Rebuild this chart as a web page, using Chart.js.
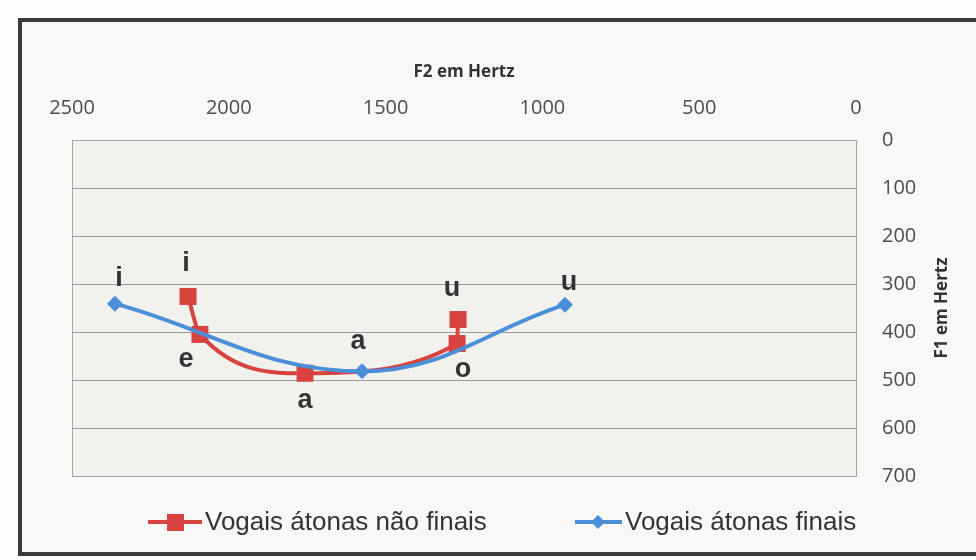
<!DOCTYPE html>
<html><head><meta charset="utf-8">
<script src="https://cdn.jsdelivr.net/npm/chart.js@4.4.0/dist/chart.umd.min.js"></script>
<style>
html,body{margin:0;padding:0;background:#fdfdfc;width:976px;height:560px;overflow:hidden}
#frame{position:absolute;left:18px;top:18px;width:1000px;height:530px;border:4px solid #3b3b3b;background:#f8f8f6;}
#c{position:absolute;left:0;top:0}
</style></head><body>
<div id="frame"></div>
<canvas id="c" width="976" height="560"></canvas>
<script>
// ---- data ----
const seriesNames = ['Vogais átonas não finais', 'Vogais átonas finais'];
const vowelsNonFinal = ['i', 'e', 'a', 'o', 'u'];
const f2NonFinal = [2130, 2092, 1757, 1272, 1269];
const f1NonFinal = [326, 405, 486, 424, 374];
const vowelsFinal = ['i', 'a', 'u'];
const f2Final = [2363, 1575, 928];
const f1Final = [341, 482, 343];
const f2Ticks = [0, 500, 1000, 1500, 2000, 2500];
const f1Ticks = [0, 100, 200, 300, 400, 500, 600, 700];

const RED = '#d9433f', BLUE = '#4a8fd8';
const toPts = (xs, ys) => xs.map((x, i) => ({ x: x, y: ys[i] }));

const plotBg = {
  id: 'plotBg',
  beforeDraw(chart) {
    const { ctx, chartArea: a } = chart;
    ctx.save();
    ctx.fillStyle = '#f1f1ed';
    ctx.fillRect(a.left, a.top, a.right - a.left, a.bottom - a.top);
    ctx.restore();
  },
  afterDraw(chart) {
    const { ctx, chartArea: a } = chart;
    ctx.save();
    ctx.strokeStyle = '#a5a5a5';
    ctx.lineWidth = 1;
    ctx.strokeRect(a.left + 0.5, a.top + 0.5, a.right - a.left, a.bottom - a.top);
    // y title, reading bottom-to-top
    ctx.translate(942, (a.top + a.bottom) / 2);
    ctx.rotate(-Math.PI / 2);
    ctx.font = 'bold 17px "Open Sans"';
    ctx.fillStyle = '#333';
    ctx.textAlign = 'center';
    ctx.textBaseline = 'middle';
    ctx.fillText('F1 em Hertz', 0, 0);
    ctx.restore();
  }
};

const vowelLabels = {
  id: 'vowelLabels',
  afterDatasetsDraw(chart, args, opts) {
    const ctx = chart.ctx;
    chart.data.datasets.forEach((ds, di) => {
      const meta = chart.getDatasetMeta(di);
      const offs = opts.offsets[di];
      meta.data.forEach((pt, i) => {
        ctx.save();
        ctx.font = opts.font;
        ctx.fillStyle = opts.color;
        ctx.textAlign = 'center';
        ctx.textBaseline = 'middle';
        ctx.fillText(ds.vowels[i], pt.x + offs[i][0], pt.y + offs[i][1]);
        ctx.restore();
      });
    });
  }
};

const customLegend = {
  id: 'customLegend',
  afterDraw(chart) {
    const ctx = chart.ctx;
    const y = 522;
    ctx.save();
    ctx.strokeStyle = RED; ctx.lineWidth = 4;
    ctx.beginPath(); ctx.moveTo(148, y); ctx.lineTo(202, y); ctx.stroke();
    ctx.fillStyle = RED; ctx.fillRect(167, y - 8, 17, 17);
    ctx.strokeStyle = BLUE;
    ctx.beginPath(); ctx.moveTo(575, y); ctx.lineTo(622, y); ctx.stroke();
    ctx.fillStyle = BLUE;
    ctx.beginPath(); ctx.moveTo(598, y - 7); ctx.lineTo(605, y); ctx.lineTo(598, y + 7); ctx.lineTo(591, y); ctx.closePath(); ctx.fill();
    ctx.font = '26px "Liberation Sans"';
    ctx.fillStyle = '#333';
    ctx.textBaseline = 'middle';
    ctx.fillText(seriesNames[0], 205, y + 1);
    ctx.fillText(seriesNames[1], 625, y + 1);
    ctx.restore();
  }
};

const tickFont = { family: 'Open Sans', size: 20 };
const plainNum = v => String(v);

new Chart(document.getElementById('c'), {
  type: 'scatter',
  data: {
    datasets: [
      {
        label: seriesNames[0], vowels: vowelsNonFinal,
        data: toPts(f2NonFinal, f1NonFinal),
        showLine: true, cubicInterpolationMode: 'monotone', borderColor: RED, backgroundColor: RED,
        borderWidth: 4, pointStyle: 'rect', pointRadius: 12, pointBorderWidth: 0, order: 1
      },
      {
        label: seriesNames[1], vowels: vowelsFinal,
        data: toPts(f2Final, f1Final),
        showLine: true, tension: 0.4, borderColor: BLUE, backgroundColor: BLUE,
        borderWidth: 4, pointStyle: 'rectRot', pointRadius: 8, pointBorderWidth: 0, order: 0
      }
    ]
  },
  options: {
    responsive: false, animation: false,
    layout: { padding: { left: 72, right: 20, top: 2, bottom: 84 } },
    plugins: {
      legend: { display: false }, tooltip: { enabled: false },
      vowelLabels: {
        font: 'bold 27px "Liberation Sans"', color: '#333',
        offsets: [
          [[-2, -33], [-14, 25], [0, 27], [6, 26], [-6, -31]],
          [[4, -25], [-4, -30], [4, -22]]
        ]
      }
    },
    scales: {
      x: {
        type: 'linear', position: 'top', reverse: true, min: 0, max: 2500,
        afterBuildTicks(s) { s.ticks = f2Ticks.map(v => ({ value: v })); },
        afterFit(s) { s.height = 138; },
        ticks: { padding: 20, font: tickFont, color: '#4d4d4d', maxRotation: 0, autoSkip: false, callback: plainNum },
        grid: { display: false, drawTicks: false },
        border: { display: false },
        title: { display: true, text: 'F2 em Hertz', color: '#333',
                 font: { family: 'Open Sans', size: 17, weight: 'bold' }, padding: { top: 60, bottom: 0 } }
      },
      y: {
        type: 'linear', position: 'right', reverse: true, min: 0, max: 700,
        afterBuildTicks(s) { s.ticks = f1Ticks.map(v => ({ value: v })); },
        afterFit(s) { s.width = 100; },
        ticks: { padding: 26, font: tickFont, color: '#4d4d4d', autoSkip: false, callback: plainNum },
        grid: { color: '#9c9c9c', lineWidth: 1, drawTicks: false },
        border: { display: false }
      }
    }
  },
  plugins: [plotBg, vowelLabels, customLegend]
});
</script></body></html>
